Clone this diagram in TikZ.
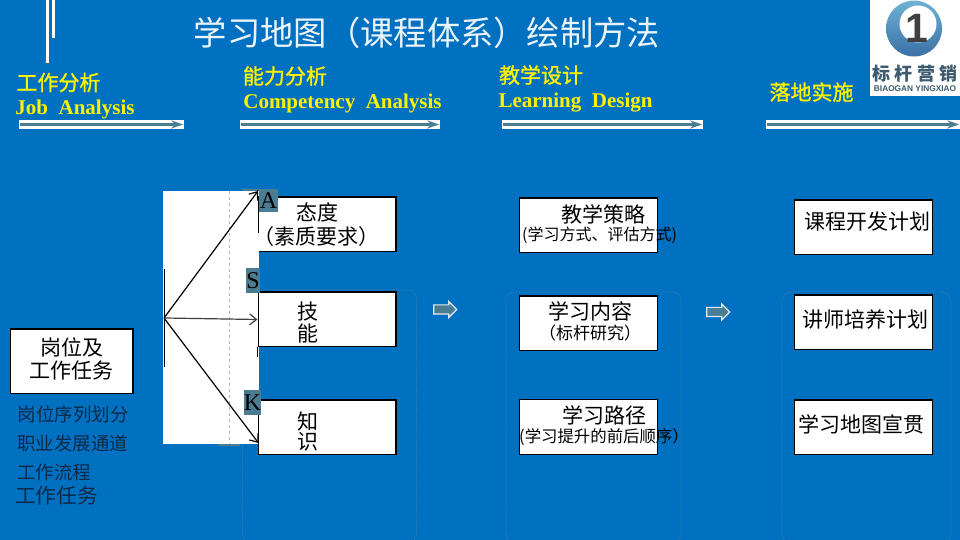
\documentclass[tikz,border=0pt]{standalone}
\usepackage{fontspec}
\setmainfont{Liberation Serif}
\newfontfamily\cjk{Noto Sans CJK SC}
\newfontfamily\cjkhead[FakeBold=1.2]{Noto Sans CJK SC}
\newfontfamily\logofont{Liberation Sans}
\usepackage{tikz}
\usetikzlibrary{calc,arrows.meta,positioning,shapes}
\definecolor{bgblue}{HTML}{0070C0}
\definecolor{tealbox}{HTML}{4A7C92}
\definecolor{dotblue}{HTML}{3B7FA8}
\definecolor{navytext}{HTML}{0C2A4A}
\definecolor{logoslate}{HTML}{3D5A6E}
\definecolor{ringlight}{HTML}{6FB2D4}
\definecolor{ringdark}{HTML}{3A70A6}
\tikzset{>={Straight Barb[length=7pt,width=11pt]},
  box/.style={draw=black,fill=white,line width=1.4pt,minimum width=137.6pt,minimum height=54.6pt,inner sep=0pt},
  boxtxt/.style={font=\cjk\fontsize{21}{24}\selectfont,text=black,inner sep=0pt},
  smalltxt/.style={font=\cjk\fontsize{16}{18}\selectfont,text=black,inner sep=0pt},
  listtxt/.style={font=\cjk\fontsize{18.5}{22}\selectfont,text=navytext,inner sep=0pt},
  headcn/.style={font=\cjkhead\fontsize{21}{24}\selectfont,text=yellow,inner sep=0pt},
  headen/.style={font=\bfseries\fontsize{21}{24}\selectfont,text=yellow,inner sep=0pt},
  bar/.style={fill=white,minimum height=9pt,inner sep=0pt},
  barline/.style={tealbox,line width=2.4pt,-{Stealth[length=12pt,width=8pt]},shorten >=1pt,shorten <=1pt},
  letter/.style={fill=tealbox,inner sep=0pt,text=black,font=\fontsize{24}{24}\selectfont},
  fanline/.style={->,line width=1.2pt},
  nextarrow/.style={single arrow,draw=white!85!tealbox,fill=tealbox,line width=1.2pt,minimum height=23pt,single arrow head extend=3.5pt,inner sep=0pt},
  dotbox/.style={dotblue,densely dotted,line width=0.9pt,rounded corners=9pt}}

\begin{document}
\begin{tikzpicture}[x=1pt,y=1pt]
\useasboundingbox (0,0) rectangle (960,540);
\fill[bgblue] (0,0) rectangle (960,540);

% top left strips
\fill[white] (46,540) rectangle (49,477);
\fill[white] (52,540) rectangle (55,502);

% title
\fill node[font=\cjk\fontsize{33.3}{36}\selectfont,text=white!92!bgblue,inner sep=0pt] (title) at (427,507) {学习地图（课程体系）绘制方法};

% logo
\fill node[fill=white,minimum width=90pt,minimum height=96pt,inner sep=0pt] (logo) at (915,492) {};
\shade[top color=ringlight,bottom color=ringdark] (914,511.5) circle (28);
\fill[white] (918,516) circle (18.5);
\fill node[font=\logofont\bfseries\fontsize{41}{41}\selectfont,text=black!75,inner sep=0pt] (logo-1) at (917,512) {1};
\fill node[font=\cjk\bfseries\fontsize{18}{20}\selectfont,text=logoslate,inner sep=0pt] (logo-cn) at (915,466.5) {标 杆 营 销};
\fill node[font=\logofont\bfseries\fontsize{8.3}{9}\selectfont,text=logoslate,inner sep=0pt] (logo-en) at (915,451) {BIAOGAN YINGXIAO};

% column heads
\fill node[headcn] (h1) at (58.5,457.5) {工作分析};
\fill node[headen] (h1-en) at (75,431) {Job\ \ Analysis};
\fill node[headcn] (h2) at (285,464) {能力分析};
\fill node[headen] (h2-en) at (342.5,437) {Competency\ \ Analysis};
\fill node[headcn] (h3) at (541,465) {教学设计};
\fill node[headen] (h3-en) at (575.5,437.5) {Learning\ \ Design};
\fill node[headcn] (h4) at (811.5,448) {落地实施};

% head bars
\fill node[bar,minimum width=165pt] (b1) at (101.5,415.5) {};
\fill node[bar,minimum width=200pt] (b2) at (340,415.5) {};
\fill node[bar,minimum width=201pt] (b3) at (602.5,415.5) {};
\fill node[bar,minimum width=194pt] (b4) at (863,415.5) {};
\draw[barline] (b1.west) -- (b1.east);
\draw[barline] (b2.west) -- (b2.east);
\draw[barline] (b3.west) -- (b3.east);
\draw[barline] (b4.west) -- (b4.east);

% dotted frames
\draw[dotbox] (242.5,-3) rectangle (416.5,250);
\draw[dotbox] (506,-3) rectangle (681,248);
\draw[dotbox] (782,-3) rectangle (951,248);

% white panel
\fill node[fill=white,minimum width=96pt,minimum height=253pt,inner sep=0pt] (panel) at (211,222.5) {};
\fill[tealbox] (243,351) rectangle (259,349);
\fill[tealbox] (218,96) rectangle (240,94);
\draw[tealbox!50!white,dashed,line width=1.2pt] (panel.north west) ++(67,0) -- ++(0,-253);
\draw[black,line width=1pt] (164,271) -- (164,173);

% left box and list
\fill node[box,minimum width=122.6pt,minimum height=64.6pt] (1-1) at (71.5,178.5) {};
\fill node[boxtxt] (t1a) at (72,193) {岗位及};
\fill node[boxtxt] (t1b) at (71.5,169) {工作任务};
\fill node[listtxt] (l1) at (73,126) {岗位序列划分};
\fill node[listtxt] (l2) at (72.5,97) {职业发展通道};
\fill node[listtxt] (l3) at (54,68) {工作流程};
\fill node[listtxt,font=\cjk\fontsize{20.7}{24}\selectfont] (l4) at (56.5,44) {工作任务};

% ability boxes
\fill node[box] (2-1) at (327,315.5) {};
\fill node[box,below of=2-1,node distance=95pt] (2-2) {};
\fill node[box,below of=2-2,node distance=108pt] (2-3) {};
\draw[white,line width=2pt] (2-1.south west) ++(0,-1) -- ++(0,20);
\draw[black,line width=1pt] (2-1.north west) ++(0,6) -- ++(0,-6);
\draw[black,line width=1pt] (2-2.south west) -- ++(0,-10);
\fill node[boxtxt] (t2a) at (317.5,328) {态度};
\fill node[boxtxt] (t2b) at (316,303) {（素质要求）};
\fill node[boxtxt] (t2c) at (307.5,228) {技};
\fill node[boxtxt] (t2d) at (307.5,207) {能};
\fill node[boxtxt] (t2e) at (307.5,119) {知};
\fill node[boxtxt] (t2f) at (307.5,98) {识};

% fan of arrows
\coordinate (hub) at (164,222);
\coordinate (a-tip) at (258,349);
\coordinate (k-tip) at (258.5,97);
\draw[fanline,black] (hub) -- (a-tip);
\draw[fanline,black!75] (hub) -- (2-2.west);
\draw[fanline,black] (hub) -- (k-tip);

% letters
\fill node[letter,minimum width=19pt,minimum height=23pt] (la) at (268.5,339.5) {A};
\fill node[letter,minimum width=14pt,minimum height=25pt] (ls) at (253,259.5) {S};
\fill node[letter,minimum width=13pt,minimum height=25pt] (lk) at (252.5,137.5) {K};

% design boxes
\fill node[box] (3-1) at (588.5,314.5) {};
\fill node[box,below of=3-1,node distance=98pt] (3-2) {};
\fill node[box,below of=3-2,node distance=103.5pt] (3-3) {};
\fill node[boxtxt] (t3a) at (603,326) {教学策略};
\fill node[smalltxt] (t3b) at (599.5,305) {(学习方式、评估方式)};
\fill node[boxtxt] (t3c) at (590,229) {学习内容};
\fill node[smalltxt,font=\cjk\fontsize{17}{18}\selectfont] (t3d) at (590,207) {（标杆研究）};
\fill node[boxtxt] (t3e) at (604.5,125) {学习路径};
\fill node[smalltxt,font=\cjk\fontsize{16.4}{18}\selectfont] (t3f) at (604,103) {(学习提升的前后顺序）};

% rollout boxes
\fill node[box] (4-1) at (863.5,312.5) {};
\fill node[box,below of=4-1,node distance=95pt] (4-2) {};
\fill node[box,below of=4-2,node distance=105pt] (4-3) {};
\fill node[boxtxt] (t4a) at (867,318) {课程开发计划};
\fill node[boxtxt] (t4b) at (865.5,220) {讲师培养计划};
\fill node[boxtxt] (t4c) at (861.5,116) {学习地图宣贯};

% step arrows
\fill node[nextarrow] (n1) at (443,230.5) {\rule{0pt}{8pt}};
\fill node[nextarrow] (n2) at (716,228) {\rule{0pt}{8pt}};
\end{tikzpicture}
\end{document}
